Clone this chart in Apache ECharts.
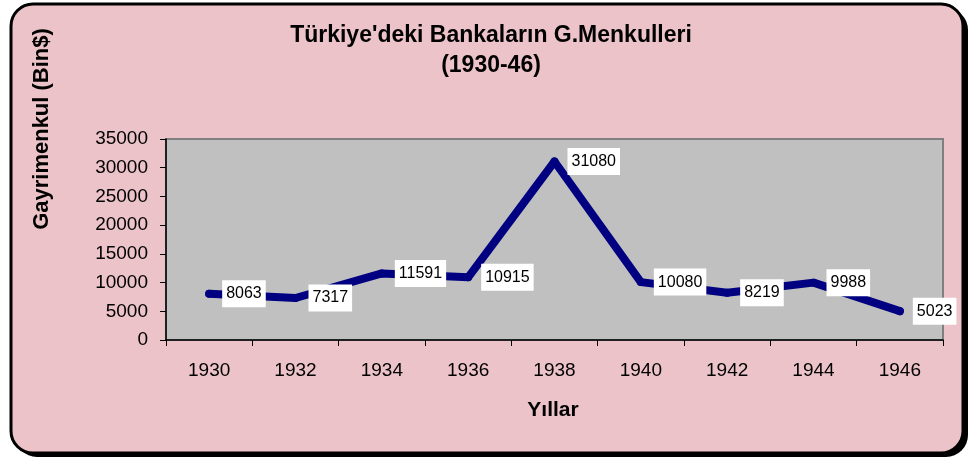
<!DOCTYPE html>
<html>
<head>
<meta charset="utf-8">
<script src="https://cdn.jsdelivr.net/npm/echarts@6/dist/echarts.min.js"></script>
<style>
  html, body { margin: 0; padding: 0; background: #ffffff; }
  #chart { width: 969px; height: 458px; }
</style>
</head>
<body>
<div id="chart"></div>
<script>
// Years on the x axis and the real-estate values (Bin $)
const years = ['1930', '1932', '1934', '1936', '1938', '1940', '1942', '1944', '1946'];
const values = [8063, 7317, 11591, 10915, 31080, 10080, 8219, 9988, 5023];

const titleLines = ["Türkiye'deki Bankaların G.Menkulleri", '(1930-46)'];
const yName = 'Gayrimenkul (Bin$)';
const xName = 'Yıllar';

const FONT = 'Arial, "Liberation Sans", sans-serif';

const chart = echarts.init(document.getElementById('chart'));

const option = {
  backgroundColor: '#ffffff',
  animation: false,
  graphic: [
    // frame shadow
    {
      type: 'rect', z: -20, silent: true,
      shape: { x: 15, y: 8, width: 953, height: 449, r: 22 },
      style: { fill: '#000000' }
    },
    // pink frame
    {
      type: 'rect', z: -19, silent: true,
      shape: { x: 11, y: 4, width: 952, height: 449, r: 22 },
      style: { fill: '#ECC3C8', stroke: '#000000', lineWidth: 3 }
    },
    {
      type: 'text', z: 10, x: 491, y: 36,
      style: {
        text: titleLines[0], fill: '#000000', font: 'bold 23px ' + FONT,
        textAlign: 'center', textVerticalAlign: 'middle'
      }
    },
    {
      type: 'text', z: 10, x: 491, y: 66,
      style: {
        text: titleLines[1], fill: '#000000', font: 'bold 23px ' + FONT,
        textAlign: 'center', textVerticalAlign: 'middle'
      }
    },
    {
      type: 'text', z: 10, x: 42, y: 129, rotation: Math.PI / 2,
      style: {
        text: yName, fill: '#000000', font: 'bold 22px ' + FONT,
        textAlign: 'center', textVerticalAlign: 'middle'
      }
    },
    {
      type: 'text', z: 10, x: 553, y: 410,
      style: {
        text: xName, fill: '#000000', font: 'bold 21px ' + FONT,
        textAlign: 'center', textVerticalAlign: 'middle'
      }
    }
  ],
  grid: {
    left: 166,
    right: 26,
    top: 139,
    bottom: 118,
    show: true,
    backgroundColor: '#C0C0C0',
    borderColor: '#808080',
    borderWidth: 2
  },
  xAxis: {
    type: 'category',
    data: years,
    boundaryGap: true,
    axisLine: { lineStyle: { color: '#000000', width: 1.5 } },
    axisTick: { show: true, length: 6, lineStyle: { color: '#000000' } },
    axisLabel: {
      interval: 0,
      margin: 21,
      color: '#000000',
      fontSize: 19,
      fontFamily: FONT
    },
    splitLine: { show: false }
  },
  yAxis: {
    type: 'value',
    min: 0,
    max: 35000,
    interval: 5000,
    axisLine: { show: true, lineStyle: { color: '#000000', width: 1.5 } },
    axisTick: { show: true, length: 6, lineStyle: { color: '#000000' } },
    axisLabel: {
      margin: 18,
      color: '#000000',
      fontSize: 19,
      fontFamily: FONT,
      formatter: v => String(v)
    },
    splitLine: { show: false }
  },
  series: [{
    type: 'line',
    data: values,
    symbol: 'circle',
    symbolSize: 8,
    itemStyle: { color: '#000080' },
    lineStyle: { color: '#000080', width: 8, cap: 'round', join: 'round' },
    label: {
      show: true,
      position: 'right',
      distance: 9,
      color: '#000000',
      fontSize: 16,
      fontFamily: FONT,
      backgroundColor: '#ffffff',
      padding: [6, 4, 5, 4]
    }
  }]
};

chart.setOption(option);
</script>
</body>
</html>
